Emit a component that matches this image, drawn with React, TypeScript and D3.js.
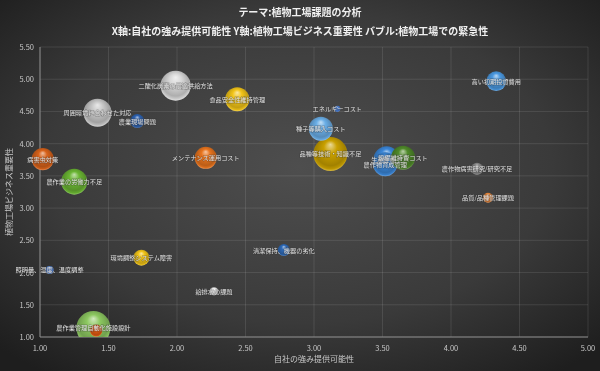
import * as d3 from "d3";

const labels = [
  "品種等技術・知識不足",
  "二酸化炭素の最適供給方法",
  "周囲環境に合わせた対応",
  "農作業の労働力不足",
  "食品安全性維持管理",
  "種子等購入コスト",
  "メンテナンス運用コスト",
  "病害虫対策",
  "生産性向上",
  "農作物育成管理",
  "高い初期投資費用",
  "設備維持費コスト",
  "環境調整システム障害",
  "農業現場問題",
  "清潔保持、機器の劣化",
  "農作物病害研究/研究不足",
  "品質/品種管理課題",
  "照明量、湿度、温度調整",
  "給排水の課題",
  "エネルギーコスト",
  "農作業管理自動化施設設計",
  "",
];
const strength = [3.12, 1.99, 1.42, 1.25, 2.44, 3.05, 2.21, 1.02, 3.53, 3.52, 4.33, 3.65, 1.74, 1.71, 2.78, 4.19, 4.27, 1.07, 2.27, 3.17, 1.39, 1.41];
const importance = [3.84, 4.9, 4.48, 3.41, 4.69, 4.23, 3.78, 3.76, 3.76, 3.68, 4.97, 3.78, 2.23, 4.35, 2.35, 3.61, 3.16, 2.04, 1.71, 4.54, 1.14, 1.1];
const urgency = [5.0, 3.9, 3.4, 2.9, 2.5, 2.5, 2.1, 2.1, 2.9, 2.5, 1.7, 2.5, 1.1, 0.85, 0.62, 0.62, 0.43, 0.28, 0.28, 0.16, 5.0, 0.65];
const colors = ["#c9a000", "#d8d8d8", "#c8c8c8", "#6ab533", "#f2c418", "#6aaee6", "#e8741e", "#d8621a", "#3a86d8", "#3a86d8", "#4a98e0", "#4f8a2a", "#f2c418", "#2e62b0", "#2e6ab8", "#8a8a8a", "#f08a3a", "#5a8ce0", "#e8e8e8", "#4a80d8", "#8cc860", "#e05a12"];

const xTicks = [1, 1.5, 2, 2.5, 3, 3.5, 4, 4.5, 5];
const yTicks = [1, 1.5, 2, 2.5, 3, 3.5, 4, 4.5, 5, 5.5];

const W = 600;
const H = 371;
const left = 40, right = 588, top = 47, bottom = 337;
const font = "'Noto Sans CJK JP', 'Noto Sans', sans-serif";

export default function App() {
  const x = d3.scaleLinear([1, 5], [left, right]);
  const y = d3.scaleLinear([1, 5.5], [bottom, top]);
  const r = d3.scaleSqrt([0, d3.max(urgency) as number], [0, 17]);
  const order = d3.range(labels.length);

  return (
    <svg width={W} height={H} style={{ position: "fixed", left: 0, top: 0 }} fontFamily={font}>
      <defs>
        <radialGradient id="bg" cx="50%" cy="45%" r="70%">
          <stop offset="0%" stopColor="#4e4e4e" />
          <stop offset="60%" stopColor="#3a3a3a" />
          <stop offset="100%" stopColor="#1e1e1e" />
        </radialGradient>
        {colors.map((c, i) => (
          <radialGradient key={i} id={`b${i}`} cx="50%" cy="45%" r="55%" fx="50%" fy="22%">
            <stop offset="0%" stopColor={d3.interpolateRgb(c, "#fff")(0.6)} />
            <stop offset="35%" stopColor={c} />
            <stop offset="80%" stopColor={d3.color(c)!.darker(0.6).toString()} />
            <stop offset="92%" stopColor={d3.color(c)!.darker(0.2).toString()} />
            <stop offset="100%" stopColor={d3.interpolateRgb(c, "#fff")(0.25)} />
          </radialGradient>
        ))}
        <clipPath id="plot">
          <rect x={left - 20} y={top - 10} width={right - left + 30} height={bottom - top + 10} />
        </clipPath>
      </defs>
      <rect width={W} height={H} fill="url(#bg)" />

      <g stroke="#ffffff" strokeOpacity={0.1}>
        {yTicks.map((t) => (
          <line key={t} x1={left} x2={right} y1={y(t)} y2={y(t)} />
        ))}
        {xTicks.map((t) => (
          <line key={t} x1={x(t)} x2={x(t)} y1={top} y2={bottom} />
        ))}
      </g>
      <line x1={left} x2={right} y1={bottom} y2={bottom} stroke="#8a8a8a" strokeWidth={1} />
      <line x1={left} x2={left} y1={top} y2={bottom} stroke="#8a8a8a" strokeWidth={1} />

      <g fill="#c8c8c8" fontSize={7.5}>
        {xTicks.map((t) => (
          <text key={t} x={x(t)} y={bottom + 14} textAnchor="middle">
            {t.toFixed(2)}
          </text>
        ))}
        {yTicks.map((t) => (
          <text key={t} x={left - 6} y={y(t) + 3} textAnchor="end">
            {t.toFixed(2)}
          </text>
        ))}
      </g>

      <g clipPath="url(#plot)">
        {order.map((i) => (
          <circle key={i} cx={x(strength[i])} cy={y(importance[i])} r={r(urgency[i])} fill={`url(#b${i})`} />
        ))}
      </g>

      <g fill="#e0e0e0" fontSize={6.2} textAnchor="middle" style={{ paintOrder: "stroke" }}>
        {order.map((i) => (
          <text key={i} x={x(strength[i])} y={y(importance[i]) + 2.5} stroke="#333" strokeOpacity={0.35} strokeWidth={1.2}>
            {labels[i]}
          </text>
        ))}
      </g>

      <text x={314} y={362} textAnchor="middle" fill="#c8c8c8" fontSize={8}>
        自社の強み提供可能性
      </text>
      <text transform={`translate(12,${(top + bottom) / 2}) rotate(-90)`} textAnchor="middle" fill="#c8c8c8" fontSize={8}>
        植物工場ビジネス重要性
      </text>

      <g fill="#f0f0f0" fontWeight="bold" textAnchor="middle">
        <text x={300} y={16} fontSize={10}>
          テーマ:植物工場課題の分析
        </text>
        <text x={300} y={35} fontSize={10}>
          X軸:自社の強み提供可能性 Y軸:植物工場ビジネス重要性 バブル:植物工場での緊急性
        </text>
      </g>
    </svg>
  );
}
